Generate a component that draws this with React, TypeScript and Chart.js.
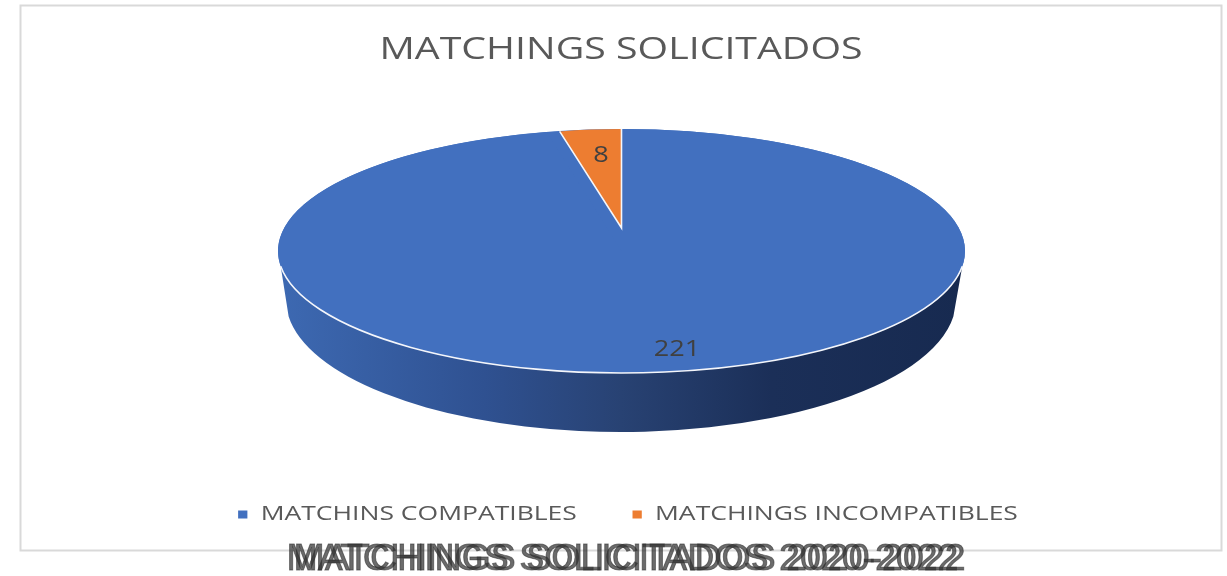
import React, { useEffect, useRef } from "react";
import { Chart, registerables } from "chart.js";

Chart.register(...registerables);

const chartTitle = "MATCHINGS SOLICITADOS";
const caption = "MATCHINGS SOLICITADOS 2020-2022";
const categories = ["MATCHINS COMPATIBLES", "MATCHINGS INCOMPATIBLES"];
const values = [221, 8];
const colors = ["#4270bf", "#ed7d31"];

const FONT = "'Open Sans', sans-serif";

const TOP = { cx: 621.5, cy: 251, rx: 343.5, ry: 122 };
const WEDGE = { cx: 621.5, cy: 228, rx: 284, ry: 99 };
const BOTTOM = { cx: 621, cy: 300, rx: 335, ry: 132 };
const LABEL_POS = [
  { x: 677, y: 348 },
  { x: 601, y: 154 },
];
const LABEL_STRETCH = 1.29;
const LEGEND_STRETCH = 1.325;
const TITLE_STRETCH = 1.268;

function stretchBox(box: any, ctx: CanvasRenderingContext2D, cx: number, sx: number) {
  const orig = box.draw.bind(box);
  box.draw = (...args: any[]) => {
    ctx.save();
    ctx.translate(cx, 0);
    ctx.scale(sx, 1);
    ctx.translate(-cx, 0);
    orig(...args);
    ctx.restore();
  };
}

const pie3d = {
  id: "pie3d",
  afterLayout(chart: any) {
    const l = chart.legend;
    const h = l.bottom - l.top;
    l.left += 7;
    l.right += 7;
    l.top = 498.5 - h / 2;
    l.bottom = 498.5 + h / 2;
    const t = chart.titleBlock;
    const th = t.bottom - t.top;
    t.top = 50 - th / 2;
    t.bottom = 50 + th / 2;
    if (!chart.$stretched) {
      chart.$stretched = true;
      stretchBox(l, chart.ctx, 628, LEGEND_STRETCH);
      stretchBox(t, chart.ctx, 621, TITLE_STRETCH);
    }
  },
  beforeDatasetsDraw(chart: any) {
    const ctx = chart.ctx as CanvasRenderingContext2D;
    const arcs = chart.getDatasetMeta(0).data as any[];

    // frame
    ctx.save();
    ctx.strokeStyle = "#d9d9d9";
    ctx.lineWidth = 2;
    ctx.strokeRect(20.5, 5.5, 1201, 545);

    // extruded wall
    const g = ctx.createLinearGradient(279, 0, 963, 0);
    g.addColorStop(0, "#3d69b2");
    g.addColorStop(0.3, "#2f5191");
    g.addColorStop(0.5, "#284273");
    g.addColorStop(0.72, "#1b2f58");
    g.addColorStop(1, "#172a50");
    ctx.fillStyle = g;
    ctx.beginPath();
    ctx.ellipse(TOP.cx, TOP.cy, TOP.rx, TOP.ry, 0, Math.PI * 0.96, Math.PI * 0.04, true);
    ctx.ellipse(BOTTOM.cx, BOTTOM.cy, BOTTOM.rx, BOTTOM.ry, 0, Math.PI * 0.04, Math.PI * 0.96, false);
    ctx.closePath();
    ctx.fill();

    // top face base
    ctx.fillStyle = colors[0];
    ctx.beginPath();
    ctx.ellipse(TOP.cx, TOP.cy, TOP.rx, TOP.ry, 0, 0, Math.PI * 2);
    ctx.fill();

    // library arcs, squashed onto the face
    arcs.forEach((el, i) => {
      const R = el.outerRadius;
      const t = i === 1 ? WEDGE : TOP;
      ctx.save();
      ctx.translate(t.cx, t.cy);
      ctx.scale(t.rx / R, t.ry / R);
      ctx.translate(-el.x, -el.y);
      el.draw(ctx);
      ctx.restore();
    });

    // white edges
    ctx.strokeStyle = "#f4f6fb";
    ctx.lineWidth = 1.6;
    ctx.beginPath();
    ctx.ellipse(TOP.cx, TOP.cy, TOP.rx, TOP.ry, 0, Math.PI * 0.96, Math.PI * 0.04, true);
    ctx.stroke();
    const w = arcs[1];
    ctx.beginPath();
    ctx.moveTo(WEDGE.cx + WEDGE.rx * Math.cos(w.startAngle), WEDGE.cy + WEDGE.ry * Math.sin(w.startAngle));
    ctx.lineTo(WEDGE.cx, WEDGE.cy);
    ctx.lineTo(WEDGE.cx + WEDGE.rx * Math.cos(w.endAngle), WEDGE.cy + WEDGE.ry * Math.sin(w.endAngle));
    ctx.stroke();

    // value labels, stretched like the rest of the picture
    ctx.fillStyle = "#404040";
    ctx.font = `21px ${FONT}`;
    ctx.textAlign = "center";
    ctx.textBaseline = "middle";
    values.forEach((v, i) => {
      ctx.save();
      ctx.translate(LABEL_POS[i].x, LABEL_POS[i].y + 2);
      ctx.scale(LABEL_STRETCH, 1);
      ctx.fillText(String(v), 0, 0);
      ctx.restore();
    });

    // doubled caption under the frame
    ctx.font = `37px 'Liberation Sans', sans-serif`;
    ctx.save();
    ctx.translate(626, 560);
    const capW = ctx.measureText(caption).width;
    ctx.scale(672 / capW, 1);
    ctx.fillStyle = "rgba(50,50,50,0.72)";
    ctx.strokeStyle = "rgba(50,50,50,0.6)";
    ctx.lineWidth = 0.9;
    [-3.5, 3.5].forEach((dx) => {
      ctx.fillText(caption, dx, 0);
      ctx.strokeText(caption, dx, 0);
    });
    ctx.restore();
    ctx.restore();
    return false;
  },
};

export default function App() {
  const ref = useRef<HTMLCanvasElement>(null);
  useEffect(() => {
    document.body.style.margin = "0";
    const chart = new Chart(ref.current!, {
      type: "pie",
      data: {
        labels: categories,
        datasets: [{ data: values, backgroundColor: colors, borderWidth: 0 }],
      },
      plugins: [pie3d],
      options: {
        responsive: false,
        animation: false,
        layout: { padding: { left: 15, top: 20, bottom: 40 } },
        plugins: {
          title: {
            display: true,
            text: chartTitle,
            color: "#595959",
            font: { family: FONT, size: 31, weight: "normal" },
          },
          legend: {
            position: "bottom",
            labels: {
              color: "#595959",
              boxWidth: 7,
              boxHeight: 8,
              padding: 42,
              font: { family: FONT, size: 20 },
            },
          },
          tooltip: { enabled: false },
        },
      },
    } as any);
    return () => chart.destroy();
  }, []);
  return <canvas ref={ref} width={1227} height={576} style={{ display: "block", filter: "blur(0.5px)" }} />;
}
